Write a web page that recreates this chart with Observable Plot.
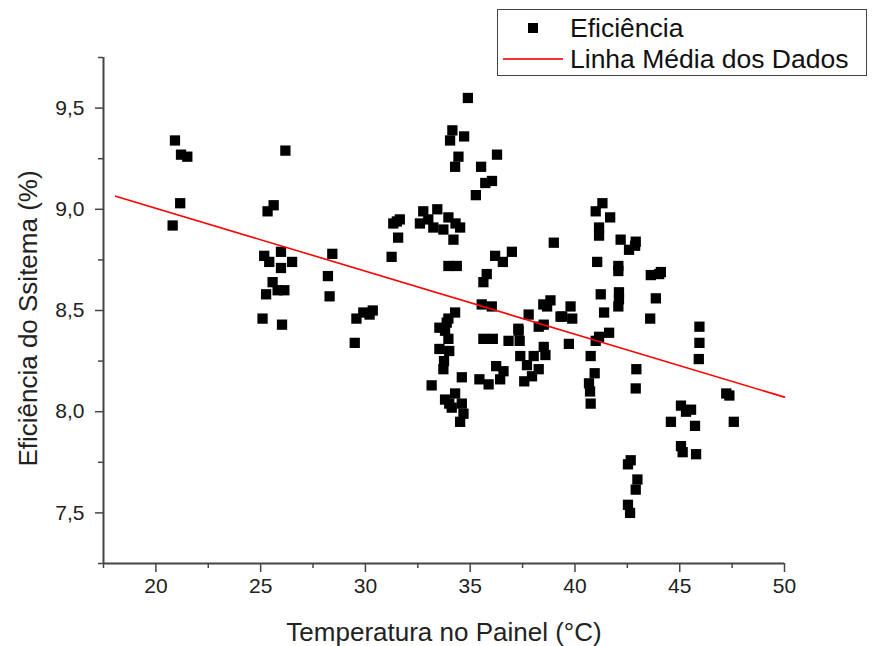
<!DOCTYPE html>
<html>
<head>
<meta charset="utf-8">
<script src="https://cdn.jsdelivr.net/npm/d3@7"></script>
<script src="https://cdn.jsdelivr.net/npm/@observablehq/plot@0.6"></script>
<style>
  html, body { margin: 0; padding: 0; background: white; }
  #wrap { position: relative; width: 875px; height: 646px; font-family: "Liberation Sans", Arial, sans-serif; }
  #legend { position: absolute; left: 497px; top: 9px; width: 370px; height: 67px; border: 1.5px solid #444; background: white; box-sizing: border-box; }
  #legend .row { position: absolute; left: 0; height: 30px; width: 100%; }
  #legend .lbl { position: absolute; left: 72px; font-size: 26.5px; color: #111; line-height: 30px; top: 0; white-space: nowrap; }
  #legend .sq { position: absolute; left: 30px; top: 10px; width: 10px; height: 10px; background: #000; }
  #legend .ln { position: absolute; left: 5px; top: 14px; width: 60px; height: 2px; background: #ff3030; }
</style>
</head>
<body>
<div id="wrap">
  <div id="chart"></div>
  <div id="legend">
    <div class="row" style="top:3px"><div class="sq"></div><div class="lbl">Eficiência</div></div>
    <div class="row" style="top:34px"><div class="ln"></div><div class="lbl">Linha Média dos Dados</div></div>
  </div>
</div>
<script>
// Panel temperature (°C)
const temperatura = [
  20.91, 21.2, 21.5, 21.16, 20.8,
  26.18, 25.62, 25.33, 25.17, 25.97, 25.41, 25.97, 26.5, 25.57, 25.26, 26.13, 25.81, 25.09, 26.02,
  28.42, 28.21, 28.29, 29.49, 29.57, 29.9, 30.2, 30.35,
  31.33, 31.64, 31.5, 31.56, 31.25,
  32.76, 32.6, 33.43, 33.96, 33.24, 33.72, 34.52, 34.2, 33.0, 34.3,
  34.89, 34.15, 34.04, 34.71, 34.44, 34.28, 35.52, 36.28, 35.72, 36.04, 35.27,
  33.96, 34.36, 36.19, 36.56, 36.99, 35.79, 35.63, 35.55, 36.03, 38.99,
  34.28, 33.96, 33.88, 33.53, 33.8, 33.96, 33.53, 34.0, 33.75, 33.72, 33.16, 34.6,
  33.8, 34.28, 34.12, 34.6, 34.68, 34.52, 34.0,
  35.63, 36.08, 37.31, 36.83, 37.36, 38.51, 37.39, 38.03, 38.59, 37.71, 38.27, 36.24, 36.59, 36.43, 35.44, 35.88, 37.58, 37.95,
  37.79, 38.27, 37.3, 38.83, 38.67, 39.31, 38.49, 39.79, 39.39, 39.87, 38.51,
  39.71, 41.31, 40.99, 41.68, 41.15, 41.15, 41.06, 41.23, 41.39, 41.63, 41.15, 40.99, 40.75, 40.94, 40.67, 40.72, 40.75,
  42.18, 42.9, 42.58, 42.87, 42.07, 42.07, 43.62, 44.02, 44.1, 43.86, 43.59, 42.1, 42.1, 42.07, 42.93, 42.9,
  42.66, 42.53, 42.98, 42.9, 42.53, 42.63,
  45.94, 45.94, 45.91, 45.06, 45.54, 44.58, 45.73, 45.06, 45.14, 45.78, 45.3,
  47.22, 47.37, 47.58
];
// System efficiency (%)
const eficiencia = [
  9.34, 9.27, 9.26, 9.03, 8.92,
  9.29, 9.02, 8.99, 8.77, 8.79, 8.74, 8.71, 8.74, 8.64, 8.58, 8.60, 8.60, 8.46, 8.43,
  8.78, 8.67, 8.57, 8.34, 8.46, 8.49, 8.48, 8.50,
  8.93, 8.95, 8.94, 8.86, 8.765,
  8.99, 8.93, 9.0, 8.96, 8.91, 8.90, 8.91, 8.85, 8.95, 8.93,
  9.55, 9.39, 9.34, 9.36, 9.26, 9.21, 9.21, 9.27, 9.13, 9.14, 9.07,
  8.72, 8.72, 8.77, 8.74, 8.79, 8.68, 8.64, 8.53, 8.52, 8.835,
  8.49, 8.46, 8.44, 8.415, 8.40, 8.36, 8.31, 8.30, 8.25, 8.21, 8.13, 8.17,
  8.06, 8.09, 8.02, 8.04, 7.99, 7.95, 8.04,
  8.36, 8.36, 8.40, 8.35, 8.35, 8.32, 8.275, 8.275, 8.28, 8.23, 8.21, 8.225, 8.20, 8.16, 8.16, 8.135, 8.15, 8.175,
  8.48, 8.42, 8.41, 8.55, 8.52, 8.47, 8.53, 8.52, 8.47, 8.46, 8.43,
  8.335, 9.03, 8.99, 8.96, 8.91, 8.87, 8.74, 8.58, 8.49, 8.39, 8.37, 8.35, 8.275, 8.19, 8.14, 8.10, 8.04,
  8.85, 8.84, 8.80, 8.82, 8.72, 8.695, 8.675, 8.68, 8.69, 8.56, 8.46, 8.59, 8.555, 8.52, 8.21, 8.115,
  7.76, 7.74, 7.665, 7.615, 7.54, 7.50,
  8.42, 8.34, 8.26, 8.03, 8.01, 7.95, 7.93, 7.83, 7.80, 7.79, 8.0,
  8.09, 8.08, 7.95
];
// Mean line endpoints
const linhaX = [18.08, 50];
const linhaY = [9.065, 8.072];

const xTicks = [20, 25, 30, 35, 40, 45, 50];
const xMinor = [17.5, 22.5, 27.5, 32.5, 37.5, 42.5, 47.5];
const yTicks = [7.5, 8.0, 8.5, 9.0, 9.5];
const yMinor = [7.25, 7.75, 8.25, 8.75, 9.25, 9.75];

const pontos = temperatura.map((t, i) => ({t, e: eficiencia[i]}));
const linha = linhaX.map((x, i) => ({x, y: linhaY[i]}));
const fmtY = d => d.toFixed(1).replace(".", ",");

const axisColor = "#444";
const chart = Plot.plot({
  width: 875,
  height: 646,
  marginLeft: 103,
  marginRight: 91,
  marginTop: 57,
  marginBottom: 83,
  x: {domain: [17.5, 50]},
  y: {domain: [7.25, 9.75]},
  style: {fontFamily: '"Liberation Sans", Arial, sans-serif', color: "#222", background: "white"},
  marks: [
    Plot.axisX(xTicks, {tickSize: 9, tickPadding: 6, fontSize: 21, tickFormat: d => String(d), label: null, stroke: axisColor, strokeWidth: 1.5}),
    Plot.axisX(xMinor, {tickSize: 5, tickFormat: () => "", label: null, stroke: axisColor, strokeWidth: 1.5}),
    Plot.axisY(yTicks, {tickSize: 8, tickPadding: 11, fontSize: 21, tickFormat: fmtY, label: null, stroke: axisColor, strokeWidth: 1.5}),
    Plot.axisY(yMinor, {tickSize: 5, tickFormat: () => "", label: null, stroke: axisColor, strokeWidth: 1.5}),
    Plot.ruleX([17.5], {stroke: axisColor, strokeWidth: 2}),
    Plot.ruleY([7.25], {stroke: axisColor, strokeWidth: 2}),
    Plot.dot(pontos, {x: "t", y: "e", symbol: "square", r: 5.8, fill: "#000", stroke: "none"}),
    Plot.line(linha, {x: "x", y: "y", stroke: "#ff0000", strokeWidth: 1.6}),
    Plot.text(["Temperatura no Painel (°C)"], {frameAnchor: "bottom", dy: 69, lineAnchor: "middle", textAnchor: "middle", fontSize: 26, fill: "#222"}),
    Plot.text(["Eficiência do Ssitema (%)"], {frameAnchor: "left", dx: -75, dy: 8, rotate: -90, lineAnchor: "middle", textAnchor: "middle", fontSize: 26, fill: "#222"})
  ]
});
document.getElementById("chart").appendChild(chart);
</script>
</body>
</html>
